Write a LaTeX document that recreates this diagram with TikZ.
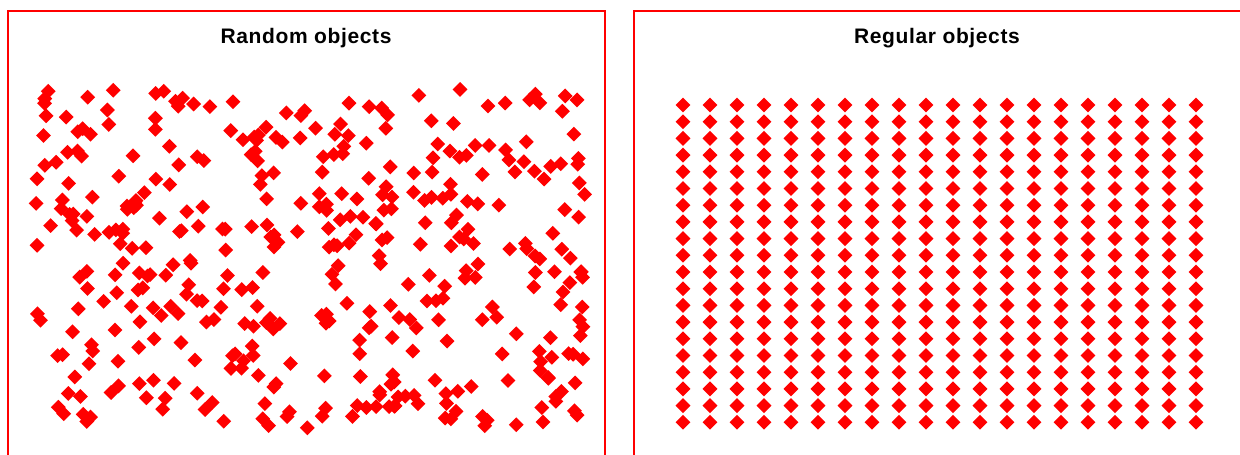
\documentclass[tikz,border=0pt]{standalone}
\usepackage{fontspec}
\newfontfamily\paneltitle[LetterSpace=3]{Liberation Sans}
\usetikzlibrary{shapes.geometric}
\definecolor{ObjRed}{HTML}{FF0000}
\definecolor{Ink}{HTML}{000000}
\tikzset{
  panel/.style={draw=ObjRed, line width=1.6pt},
  paneltext/.style={font=\paneltitle\fontsize{21}{24}\selectfont\bfseries, text=Ink, inner sep=0pt},
  obj/.style={shape=diamond, fill=ObjRed, draw=none, inner sep=0pt,
    minimum width=15pt, minimum height=15pt}
}

\begin{document}
\begin{tikzpicture}[x=1pt, y=-1pt]
  \useasboundingbox (0,0) rectangle (1240,455);
  \clip (0,0) rectangle (1240,455);
  % the two panels, open at the bottom
  \draw[panel] (8,11) rectangle (605,470);
  \draw[panel] (634,11) rectangle (1260,470);
  \node[paneltext] (randtitle) at (306,38) {Random objects};
  \node[paneltext] (regtitle) at (937,38) {Regular objects};
  % random objects
  \pgfmathsetseed{1357}
  \foreach \k in {1,...,400}{
    \pgfmathsetmacro\rx{310+276*rand}
    \pgfmathsetmacro\ry{259+170*rand}
    \node[obj] (rnd-\k) at (\rx,\ry) {};
  }
  % regular objects
  \foreach \i in {0,...,19}{
    \foreach \j in {0,...,19}{
      \node[obj] (reg-\i-\j) at ({683+27*\i},{105+16.7*\j}) {};
    }
  }
\end{tikzpicture}
\end{document}
